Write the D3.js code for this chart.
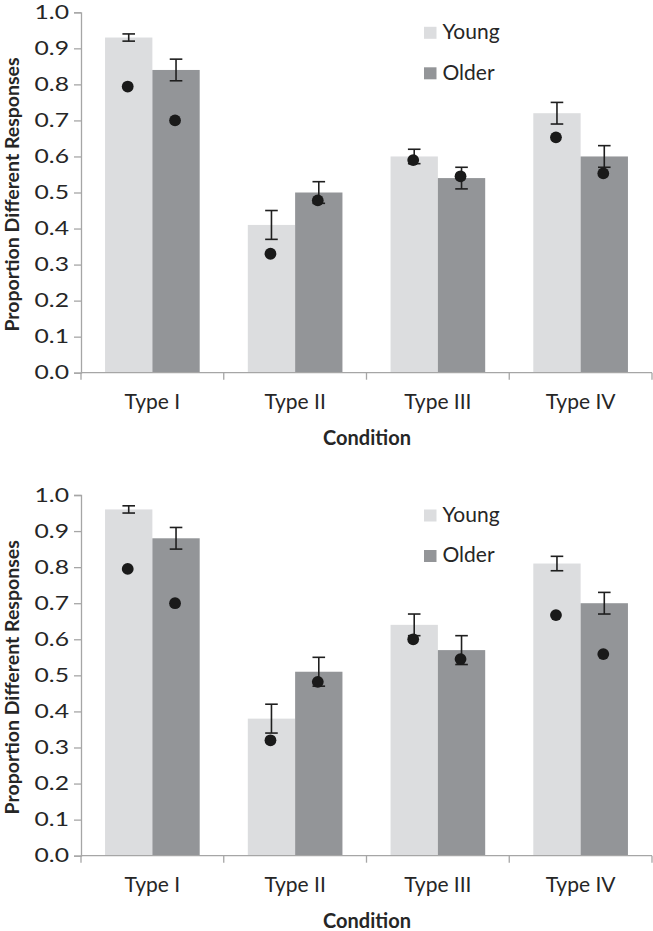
<!DOCTYPE html>
<html>
<head>
<meta charset="utf-8">
<script src="https://cdn.jsdelivr.net/npm/d3@7"></script>
<style>
  html, body { margin: 0; padding: 0; background: #ffffff; }
  svg { display: block; }
  text { font-family: Lato, "Open Sans", sans-serif; }
</style>
</head>
<body>
<svg id="chart" width="653" height="931"></svg>
<script>
// ---- data ----
const categories = ["Type I", "Type II", "Type III", "Type IV"];
const seriesNames = ["Young", "Older"];
const yTicks = [0, 0.1, 0.2, 0.3, 0.4, 0.5, 0.6, 0.7, 0.8, 0.9, 1.0];

// Panel 1 (top)
const young1 = [0.93, 0.41, 0.60, 0.72];
const older1 = [0.84, 0.50, 0.54, 0.60];
const youngErr1 = [0.01, 0.04, 0.02, 0.03];
const olderErr1 = [0.03, 0.03, 0.03, 0.03];
const youngDot1 = [0.794, 0.33, 0.59, 0.653];
const olderDot1 = [0.70, 0.478, 0.545, 0.553];

// Panel 2 (bottom)
const young2 = [0.96, 0.38, 0.64, 0.81];
const older2 = [0.88, 0.51, 0.57, 0.70];
const youngErr2 = [0.01, 0.04, 0.03, 0.02];
const olderErr2 = [0.03, 0.04, 0.04, 0.03];
const youngDot2 = [0.795, 0.32, 0.60, 0.667];
const olderDot2 = [0.70, 0.482, 0.545, 0.559];

const panels = [
  { top: 12.3, bottom: 372.7, young: young1, older: older1, yErr: youngErr1, oErr: olderErr1, yDot: youngDot1, oDot: olderDot1 },
  { top: 495, bottom: 855.7, young: young2, older: older2, yErr: youngErr2, oErr: olderErr2, yDot: youngDot2, oDot: olderDot2 }
];

const colors = { Young: "#dcdddf", Older: "#939598" };
const axisColor = "#a6a6a6";
const textColor = "#262626";
const plotLeft = 81, plotRight = 652;
const tickScaleX = 1.3;

const svg = d3.select("#chart");

panels.forEach(p => {
  const g = svg.append("g");
  const y = d3.scaleLinear().domain([0, 1]).range([p.bottom, p.top]);
  const x0 = d3.scaleBand().domain(categories).range([plotLeft, plotRight])
    .paddingInner(0.337).paddingOuter(0.337 / 2);
  const x1 = d3.scaleBand().domain(seriesNames).range([0, x0.bandwidth()]).padding(0);

  const rows = categories.map((c, i) => ({
    cat: c,
    vals: [
      { s: "Young", v: p.young[i], e: p.yErr[i], d: p.yDot[i] },
      { s: "Older", v: p.older[i], e: p.oErr[i], d: p.oDot[i] }
    ]
  }));

  // bars
  const grp = g.selectAll(".grp").data(rows).enter().append("g")
    .attr("transform", d => `translate(${x0(d.cat)},0)`);
  grp.selectAll("rect").data(d => d.vals).enter().append("rect")
    .attr("x", d => x1(d.s))
    .attr("width", x1.bandwidth())
    .attr("y", d => y(d.v))
    .attr("height", d => y(0) - y(d.v))
    .attr("fill", d => colors[d.s]);

  // axes
  const yAxis = d3.axisLeft(y).tickValues(yTicks).tickFormat(d3.format(".1f")).tickSize(7).tickPadding(5);
  const ya = g.append("g").attr("transform", `translate(${plotLeft},0)`).call(yAxis);
  ya.select(".domain").attr("stroke", axisColor).attr("stroke-width", 1.3);
  ya.selectAll(".tick line").attr("stroke", axisColor).attr("stroke-width", 1.3);
  ya.selectAll(".tick text").attr("fill", textColor).style("font-size", "19px")
    .style("font-family", "Lato, 'Open Sans', sans-serif")
    .attr("x", -12 / tickScaleX)
    .attr("transform", `scale(${tickScaleX},1)`);

  // x axis line and category boundary ticks
  g.append("line").attr("x1", plotLeft).attr("x2", plotRight)
    .attr("y1", y(0)).attr("y2", y(0)).attr("stroke", axisColor).attr("stroke-width", 1.3);
  const boundaries = categories.map(c => x0(c) - x0.step() * 0.337 / 2).concat([plotRight]);
  g.selectAll(".xtick").data(boundaries).enter().append("line")
    .attr("x1", d => d).attr("x2", d => d)
    .attr("y1", y(0)).attr("y2", y(0) + 7)
    .attr("stroke", axisColor).attr("stroke-width", 1.3);

  g.selectAll(".xlab").data(categories).enter().append("text")
    .attr("x", d => x0(d) + x0.bandwidth() / 2)
    .attr("y", y(0) + 36.6)
    .attr("text-anchor", "middle")
    .attr("fill", textColor)
    .style("font-size", "21px")
    .text(d => d);

  // error bars
  const eb = grp.selectAll(".eb").data(d => d.vals).enter().append("g")
    .attr("stroke", "#1f1f1f").attr("stroke-width", 1.6);
  eb.append("line")
    .attr("x1", d => x1(d.s) + x1.bandwidth() / 2).attr("x2", d => x1(d.s) + x1.bandwidth() / 2)
    .attr("y1", d => y(d.v + d.e)).attr("y2", d => y(d.v - d.e));
  eb.append("line")
    .attr("x1", d => x1(d.s) + x1.bandwidth() / 2 - 6.3).attr("x2", d => x1(d.s) + x1.bandwidth() / 2 + 6.3)
    .attr("y1", d => y(d.v + d.e)).attr("y2", d => y(d.v + d.e));
  eb.append("line")
    .attr("x1", d => x1(d.s) + x1.bandwidth() / 2 - 6.3).attr("x2", d => x1(d.s) + x1.bandwidth() / 2 + 6.3)
    .attr("y1", d => y(d.v - d.e)).attr("y2", d => y(d.v - d.e));

  // dots
  grp.selectAll("circle").data(d => d.vals).enter().append("circle")
    .attr("cx", d => x1(d.s) + x1.bandwidth() / 2 - 1)
    .attr("cy", d => y(d.d))
    .attr("r", 5.9)
    .attr("fill", "#1a1a1a");

  // axis titles
  g.append("text")
    .attr("transform", `translate(19,${(p.top + p.bottom) / 2 + 2}) rotate(-90)`)
    .attr("text-anchor", "middle")
    .attr("fill", textColor)
    .style("font-size", "19.5px").style("font-weight", "bold")
    .text("Proportion Different Responses");
  g.append("text")
    .attr("x", (plotLeft + plotRight) / 2 + 0.5)
    .attr("y", p.bottom + 72.3)
    .attr("text-anchor", "middle")
    .attr("fill", textColor)
    .style("font-size", "20px").style("font-weight", "bold")
    .text("Condition");

  // legend
  const lg = g.append("g").attr("transform", `translate(424,${p.top + 14.5})`);
  seriesNames.forEach((s, i) => {
    lg.append("rect").attr("x", 0).attr("y", i * 40.5).attr("width", 12.5).attr("height", 12)
      .attr("fill", colors[s]);
    lg.append("text").attr("x", 18.5).attr("y", i * 40.5 + 12.3)
      .attr("fill", textColor).style("font-size", "21px").text(s);
  });
});
</script>
</body>
</html>
